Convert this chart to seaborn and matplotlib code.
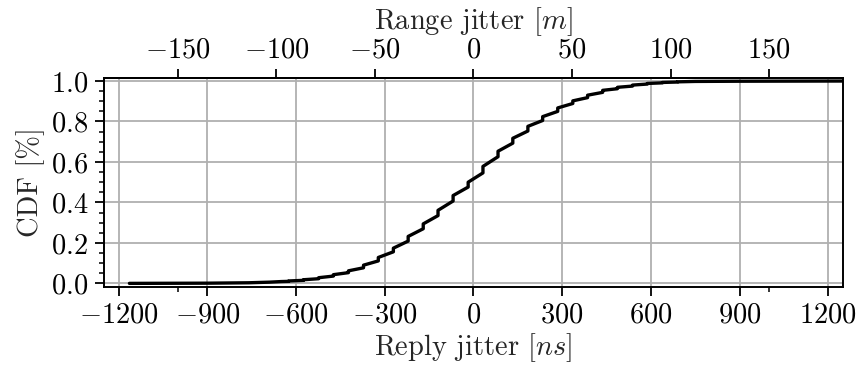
import matplotlib
matplotlib.use("Agg")
import matplotlib.pyplot as plt
from matplotlib.ticker import AutoMinorLocator
import seaborn as sns
import pandas as pd

# ECDF of reply jitter.
# tails: plain points; middle: jump positions (ns) with CDF just before / after each jump
tail_left_ns = [-1164, -900, -760, -690, -650]
tail_left_cdf = [0.0, 0.001, 0.003, 0.006, 0.009]

jump_ns = [-625, -575, -524, -474, -423, -372, -322, -271, -221, -170, -120, -69, -18,
           32, 83, 133, 184, 234, 285, 336, 386, 437, 487, 538, 588, 639, 690]
cdf_before = [0.010, 0.015, 0.023, 0.036, 0.053, 0.077, 0.111, 0.156, 0.209, 0.270, 0.335,
              0.407, 0.476, 0.546, 0.626, 0.693, 0.753, 0.805, 0.850, 0.889, 0.918, 0.944,
              0.962, 0.975, 0.985, 0.991, 0.995]
cdf_after = [0.012, 0.018, 0.028, 0.043, 0.062, 0.090, 0.128, 0.174, 0.232, 0.294, 0.361,
             0.434, 0.500, 0.578, 0.653, 0.717, 0.776, 0.824, 0.867, 0.902, 0.930, 0.954,
             0.969, 0.980, 0.988, 0.993, 0.996]

tail_right_ns = [750, 900, 1250]
tail_right_cdf = [0.998, 0.999, 1.0]

xticks_ns = [-1200, -900, -600, -300, 0, 300, 600, 900, 1200]
xticks_m = [-150, -100, -50, 0, 50, 100, 150]
yticks = [0.0, 0.2, 0.4, 0.6, 0.8, 1.0]

NS_TO_M = 0.15  # c/2 in m per ns

# build the polyline: vertical jumps, straight ramps between them
xs = list(tail_left_ns)
ys = list(tail_left_cdf)
for x, lo, hi in zip(jump_ns, cdf_before, cdf_after):
    xs += [x, x]
    ys += [lo, hi]
xs += tail_right_ns
ys += tail_right_cdf
df = pd.DataFrame({"jitter": xs, "cdf": ys})

sns.set_style("ticks")
plt.rcParams.update({
    "font.family": "serif",
    "font.serif": ["cmr10"],
    "mathtext.fontset": "cm",
    "axes.formatter.use_mathtext": True,
    "font.size": 20.5,
    "axes.linewidth": 1.4,
    "xtick.major.size": 6.5,
    "ytick.major.size": 6.5,
    "xtick.minor.size": 3.5,
    "ytick.minor.size": 3.5,
    "xtick.major.width": 1.3,
    "ytick.major.width": 1.3,
    "xtick.minor.width": 1.1,
    "ytick.minor.width": 1.1,
    "xtick.major.pad": 4.5,
    "ytick.major.pad": 5,
    "xtick.color": "black",
    "ytick.color": "black",
    "axes.edgecolor": "black",
})

fig = plt.figure(figsize=(8.58, 3.66), dpi=100)
ax = fig.add_axes([0.1212, 0.2158, 0.8613, 0.5711])

sns.lineplot(data=df, x="jitter", y="cdf", ax=ax, color="black", lw=2.4,
             sort=False, estimator=None)

ax.set_xlim(-1250, 1250)
ax.set_ylim(-0.018, 1.015)
ax.set_xticks(xticks_ns)
ax.set_xticks([-1000, 1000], minor=True)
ax.set_yticks(yticks)
ax.yaxis.set_minor_locator(AutoMinorLocator())
ax.grid(True, which="major", color="#b0b0b0", lw=1.3)
ax.set_axisbelow(True)
ax.set_xlabel("Reply jitter [$ns$]", labelpad=2)
ax.set_ylabel("CDF [%]", labelpad=4)

top = ax.secondary_xaxis("top", functions=(lambda x: x * NS_TO_M, lambda x: x / NS_TO_M))
top.set_xticks(xticks_m)
top.set_xlabel("Range jitter [$m$]", labelpad=6)
top.tick_params(which="major", length=6.5, width=1.3, pad=4)

fig.savefig("out.png", dpi=100)
